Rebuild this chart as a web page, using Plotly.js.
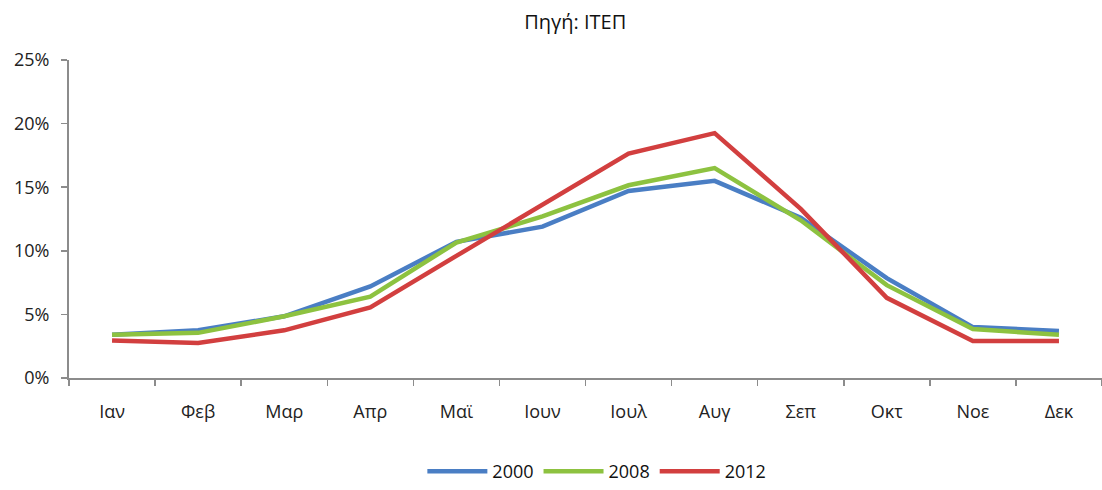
<!DOCTYPE html>
<html>
<head>
<meta charset="utf-8">
<script src="https://cdn.plot.ly/plotly-3.0.1.min.js"></script>
<style>html,body{margin:0;padding:0;background:#fff;}#chart{width:1102px;height:490px;}</style>
</head>
<body>
<div id="chart"></div>
<script>
const months = ["Ιαν","Φεβ","Μαρ","Απρ","Μαϊ","Ιουν","Ιουλ","Αυγ","Σεπ","Οκτ","Νοε","Δεκ"];
const s2000 = [3.4, 3.75, 4.85, 7.2, 10.7, 11.9, 14.7, 15.5, 12.6, 7.85, 4.0, 3.7];
const s2008 = [3.4, 3.55, 4.85, 6.4, 10.65, 12.7, 15.15, 16.5, 12.4, 7.3, 3.85, 3.4];
const s2012 = [2.95, 2.75, 3.75, 5.55, 9.6, 13.6, 17.65, 19.25, 13.3, 6.3, 2.9, 2.9];
const seriesNames = ["2000","2008","2012"];
const colors = ["#4A7EC4","#8DC240","#D23F3F"];
const font = "Open Sans, DejaVu Sans, sans-serif";

const data = [s2000, s2008, s2012].map((v, i) => ({
  type: "scatter", mode: "lines", x: months, y: v, name: seriesNames[i],
  line: {color: colors[i], width: 4.5}
}));

const layout = {
  width: 1102, height: 490,
  margin: {l: 69, r: 0, t: 60, b: 112, autoexpand: false},
  paper_bgcolor: "#fff", plot_bgcolor: "#fff",
  font: {family: font, size: 18, color: "#222"},
  title: {text: "Πηγή: ΙΤΕΠ", x: 0.522, xref: "container", xanchor: "center", y: 0.955, yref: "container", yanchor: "middle", font: {family: font, size: 20, color: "#111"}},
  xaxis: {type: "category", range: [-0.5, 11.5], autorange: false, showgrid: false, zeroline: false, showline: true, linecolor: "#8c8c8c", linewidth: 2,
          ticks: "outside", tickson: "boundaries", ticklen: 6, tickcolor: "#8c8c8c", tickwidth: 1.5,
          ticklabelstandoff: 16, tickfont: {family: font, size: 18, color: "#222"}},
  yaxis: {range: [0, 25], dtick: 5, ticksuffix: "%", showgrid: false, zeroline: false, showline: true,
          linecolor: "#8c8c8c", linewidth: 2, ticks: "outside", ticklen: 6, tickcolor: "#8c8c8c", tickwidth: 1.5,
          ticklabelstandoff: 8, tickfont: {family: font, size: 18, color: "#222"}},
  legend: {orientation: "h", x: 0.511, xanchor: "center", yref: "container", y: 0.0, yanchor: "bottom",
           font: {family: font, size: 18, color: "#111"}, itemwidth: 60, tracegroupgap: 0},
  showlegend: true
};
Plotly.newPlot("chart", data, layout, {staticPlot: true, displayModeBar: false});
</script>
</body>
</html>
